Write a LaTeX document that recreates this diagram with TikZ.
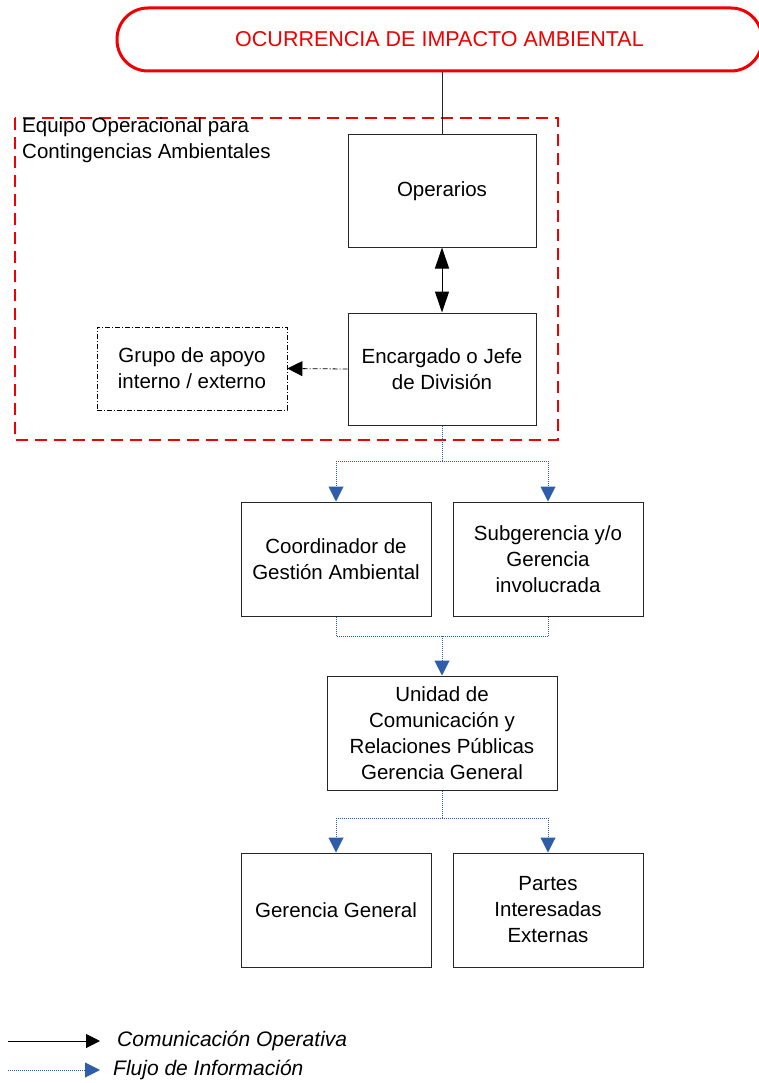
\documentclass[tikz,border=0pt]{standalone}
\usepackage{fontspec}
\setmainfont{Liberation Sans}
\usetikzlibrary{arrows.meta}
\definecolor{flowblue}{RGB}{46,94,170}
\definecolor{alarmred}{RGB}{240,0,0}
\tikzset{
  box/.style={draw=black!85, line width=1pt, align=center, inner sep=0pt,
    font=\fontsize{20.5}{26}\selectfont},
  info/.style={draw=flowblue, line width=1pt, densely dotted,
    -{Triangle[length=15pt,width=15pt]}},
  infoline/.style={draw=flowblue, line width=1pt, densely dotted},
  oper/.style={draw=black, line width=1pt},
}
\begin{document}
\begin{tikzpicture}[x=1pt,y=-1pt]
\useasboundingbox (0,0) rectangle (759,1083);

% event box
\node[draw=alarmred, line width=3pt, rounded corners=31pt, minimum width=645pt,
  minimum height=63pt, text=alarmred, font=\fontsize{21.5}{26}\selectfont,
  inner sep=0pt] (evento) at (439.5,39.5) {OCURRENCIA DE IMPACTO AMBIENTAL};

% operational team frame
\draw[alarmred, line width=2pt, dash pattern=on 12pt off 7pt] (15,118) rectangle (558,440);
\node[anchor=north west, align=left, inner sep=0pt,
  font=\fontsize{20.5}{26}\selectfont] (equipo) at (22,117)
  {Equipo Operacional para\\Contingencias Ambientales};

% boxes
\node[box, minimum width=188pt, minimum height=112pt] (operarios) at (442,191) {Operarios};
\node[box, minimum width=188pt, minimum height=112pt] (jefe) at (442,369) {Encargado o Jefe\\de División};
\node[box, draw=black, line width=0.8pt, dash pattern=on 5pt off 2pt on 1pt off 2pt,
  minimum width=190pt, minimum height=83pt] (apoyo) at (192,368.5) {Grupo de apoyo\\interno / externo};
\node[box, minimum width=190pt, minimum height=114pt] (coord) at (336,559) {Coordinador de\\Gestión Ambiental};
\node[box, minimum width=190pt, minimum height=114pt] (subg) at (548,559) {Subgerencia y/o\\Gerencia\\involucrada};
\node[box, minimum width=230pt, minimum height=114pt] (unidad) at (442,733) {Unidad de\\Comunicación y\\Relaciones Públicas\\Gerencia General};
\node[box, minimum width=190pt, minimum height=114pt] (gerencia) at (336,910) {Gerencia General};
\node[box, minimum width=190pt, minimum height=114pt] (partes) at (548,910) {Partes\\Interesadas\\Externas};

% operational links
\draw[black!85, line width=1pt] (evento.south -| operarios.north) -- (operarios.north);
\draw[oper, {Triangle[length=21pt,width=14pt]}-{Triangle[length=21pt,width=14pt]}]
  (operarios.south) -- (jefe.north);
\draw[black, line width=0.8pt, dash pattern=on 5pt off 2pt on 1pt off 2pt,
  -{Triangle[length=15pt,width=15pt]}] (jefe.west) -- (apoyo.east);

% information flow
\coordinate (s1) at (442,461);
\draw[infoline] (jefe.south) -- (s1);
\draw[infoline] (coord.north |- s1) -- (subg.north |- s1);
\draw[info] (coord.north |- s1) -- (coord.north);
\draw[info] (subg.north |- s1) -- (subg.north);

\coordinate (s2) at (442,636);
\draw[infoline] (coord.south) -- (coord.south |- s2) -- (subg.south |- s2) -- (subg.south);
\draw[info] (s2) -- (unidad.north);

\coordinate (s3) at (442,818);
\draw[infoline] (unidad.south) -- (s3);
\draw[infoline] (gerencia.north |- s3) -- (partes.north |- s3);
\draw[info] (gerencia.north |- s3) -- (gerencia.north);
\draw[info] (partes.north |- s3) -- (partes.north);

% legend
\coordinate (l1a) at (8,1041);
\coordinate (l1b) at (100,1041);
\coordinate (l2a) at (8,1070);
\coordinate (l2b) at (100,1070);
\draw[oper, -{Triangle[length=14pt,width=14pt]}] (l1a) -- (l1b);
\draw[info] (l2a) -- (l2b);
\node[anchor=west, inner sep=0pt, font=\fontsize{21}{26}\selectfont\itshape] (leg1) at (117,1041) {Comunicación Operativa};
\node[anchor=west, inner sep=0pt, font=\fontsize{21}{26}\selectfont\itshape] (leg2) at (113,1070) {Flujo de Información};
\end{tikzpicture}
\end{document}
